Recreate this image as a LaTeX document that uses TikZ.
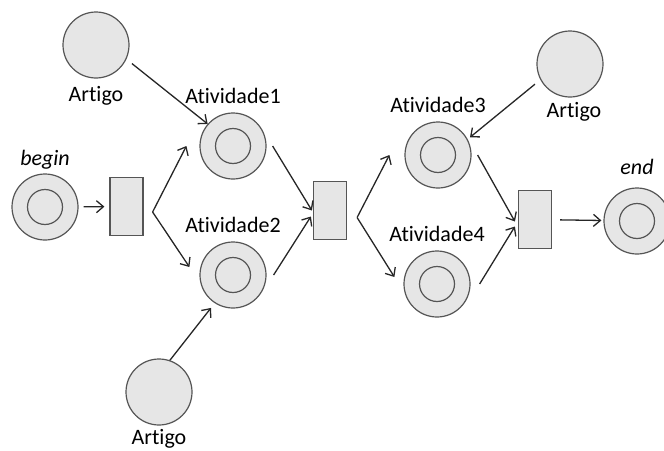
\documentclass[tikz,border=0pt]{standalone}
\usepackage{fontspec}
\setmainfont{Carlito}[Ligatures=NoCommon]
\usetikzlibrary{arrows.meta, positioning}
\definecolor{placefill}{RGB}{230,230,230}
\definecolor{placeline}{RGB}{85,85,85}

\begin{document}
\begin{tikzpicture}[
    x=1pt, y=-1pt,
    node distance=6pt,
    place/.style={circle, draw=placeline, fill=placefill, line width=1.2pt, minimum size=66pt, inner sep=0pt},
    token/.style={draw=placeline, fill=placefill, line width=1.2pt},
    trans/.style={rectangle, draw=placeline, fill=placefill, line width=1.2pt, minimum width=33pt, minimum height=58pt, inner sep=0pt},
    lbl/.style={inner sep=0pt, font=\fontsize{22}{26}\selectfont},
    arr/.style={-{Straight Barb[length=7pt,width=12pt]}, line width=1.3pt, color=black!85, line join=round}
  ]
  \useasboundingbox (0,0) rectangle (664,450);
  % lugares e transicoes
  \node[place] (pbegin) at (45,207) {};
  \node[place] (art1) at (96,45) {};
  \node[place] (a1) at (233,146) {};
  \node[place] (a2) at (233,275) {};
  \node[place] (art2) at (159,392) {};
  \node[place] (a3) at (438,155) {};
  \node[place] (art3) at (570,64) {};
  \node[place] (a4) at (437,284) {};
  \node[place] (pend) at (637,221) {};
  \node[trans] (t1) at (126.5,206.5) {};
  \node[trans] (t2) at (330,210.5) {};
  \node[trans] (t3) at (535,219.5) {};
  \foreach \p in {pbegin,a1,a2,a3,a4,pend}
    \draw[token] (\p) circle[radius=17.5pt];
  % rotulos
  \node[lbl, above=4pt of pbegin] (lbegin) {\itshape begin};
  \node[lbl, above=13pt of pend] (lend) {\itshape end};
  \node[lbl, below=8pt of art1] (lart1) {Artigo};
  \node[lbl, below=4pt of art2] (lart2) {Artigo};
  \node[lbl, below=5pt of art3, xshift=4pt] (lart3) {Artigo};
  \node[lbl, above=9pt of a1] (la1) {Atividade1};
  \node[lbl, above=9pt of a2] (la2) {Atividade2};
  \node[lbl, above=9pt of a3] (la3) {Atividade3};
  \node[lbl, above=9pt of a4] (la4) {Atividade4};
  % arcos
  \coordinate (f1) at ([shift={(9pt,-5.5pt)}]t1.east);
  \coordinate (f2) at ([shift={(10pt,-7pt)}]t2.east);
  \draw[arr, shorten <=5pt, shorten >=5pt] (pbegin) -- (t1);
  \draw[arr] (f1) -- ([xshift=-13pt]a1.west);
  \draw[arr] (f1) -- ([shift={(-10pt,8pt)}]a2.west);
  \draw[arr, shorten <=7pt] (art1.-25) -- (a1.139);
  \draw[arr, shorten >=6pt] (art2.71) -- (a2.237);
  \draw[arr] ([xshift=6pt]a1.east) -- ([xshift=-1pt]t2.west);
  \draw[arr] ([xshift=7pt]a2.east) -- ([shift={(-2pt,-6pt)}]t2.west);
  \draw[arr] (f2) -- ([xshift=-15pt]a3.west);
  \draw[arr] (f2) -- ([shift={(-9pt,7pt)}]a4.west);
  \draw[arr, shorten <=7pt, shorten >=3pt] (art3.208) -- (a3.28);
  \draw[arr] ([xshift=6pt]a3.east) -- ([shift={(-3pt,-2pt)}]t3.west);
  \draw[arr] ([xshift=9pt]a4.east) -- ([shift={(-3pt,-7pt)}]t3.west);
  \draw[arr, shorten <=8pt, shorten >=2pt] (t3) -- (pend);
\end{tikzpicture}
\end{document}
